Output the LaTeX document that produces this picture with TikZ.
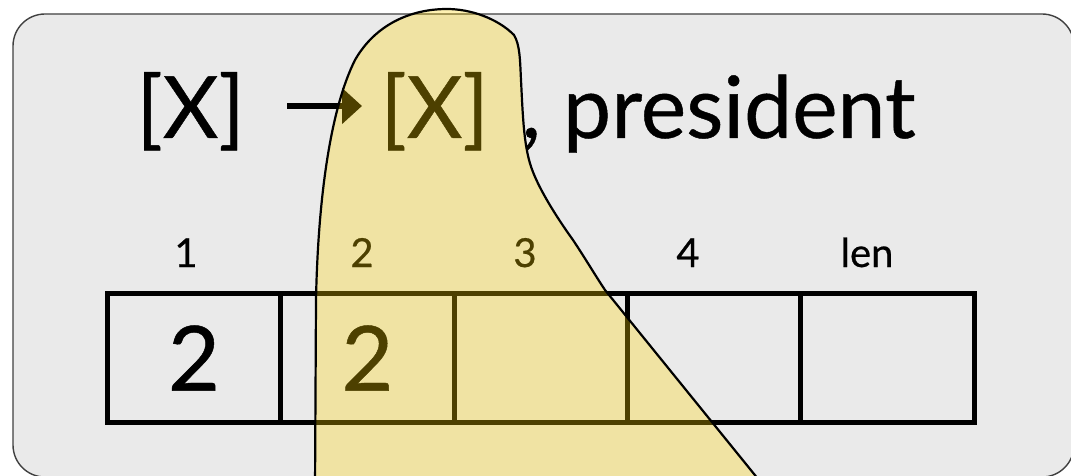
\documentclass[tikz,border=0pt]{standalone}
\usepackage{fontspec}
\setmainfont{Lato}[FakeBold=0.5]
\usetikzlibrary{positioning,arrows.meta}
\definecolor{slidegray}{HTML}{EAEAEA}
\definecolor{blobyellow}{RGB}{255,212,0}
\begin{document}
\begin{tikzpicture}[x=0.5pt,y=-0.5pt,
    cell/.style={draw,line width=2.5pt,minimum width=86.7pt,minimum height=64.5pt,
        inner sep=0pt,outer sep=0pt,font=\fontsize{45}{45}\selectfont},
    idx/.style={anchor=base,inner sep=0pt,font=\fontsize{20}{20}\selectfont},
    big/.style={anchor=base west,inner sep=0pt,font=\fontsize{43}{43}\selectfont}]
    \useasboundingbox (0,0) rectangle (1071,476);
    \clip (0,0) rectangle (1071,476);
    \draw[fill=slidegray,draw=black!75,line width=0.7pt,rounded corners=16pt]
        (13,14) rectangle (1074,477);
    % the array
    \node[cell] (c1) at (194,358) {2};
    \node[cell,right=0pt of c1] (c2) {2};
    \node[cell,right=0pt of c2] (c3) {};
    \node[cell,right=0pt of c3] (c4) {};
    \node[cell,right=0pt of c4] (c5) {};
    \node[idx] (i1) at (186,267) {1};
    \node[idx] (i2) at (362,267) {2};
    \node[idx] (i3) at (525,267) {3};
    \node[idx] (i4) at (688,267) {4};
    \node[idx] (i5) at (867,267) {len};
    % the rule
    \node[big] (lhs) at (136,138) {[X]};
    \node[big] (rhs) at (380,138) {[X]};
    \node[big] (rest) at (521,138) {, president};
    \draw[line width=3.3pt,-{Triangle[length=10pt,width=17.5pt]}]
        ([xshift=21pt,yshift=16pt]lhs.base east) -- ([xshift=-9pt,yshift=16pt]rhs.base west);
    % highlighted span
    \draw[fill=blobyellow,fill opacity=0.3,line width=1.1pt]
        (315,490) -- (316,300) .. controls (318,200) and (330,110) .. (355,60)
        .. controls (375,25) and (410,9) .. (447,9)
        .. controls (470,9) and (497,18) .. (514,35)
        .. controls (520,45) and (520,60) .. (521,80)
        .. controls (523,120) and (524,150) .. (533,172)
        .. controls (540,190) and (555,215) .. (573,240)
        .. controls (585,258) and (595,275) .. (605,290) -- (767,490);
\end{tikzpicture}
\end{document}
